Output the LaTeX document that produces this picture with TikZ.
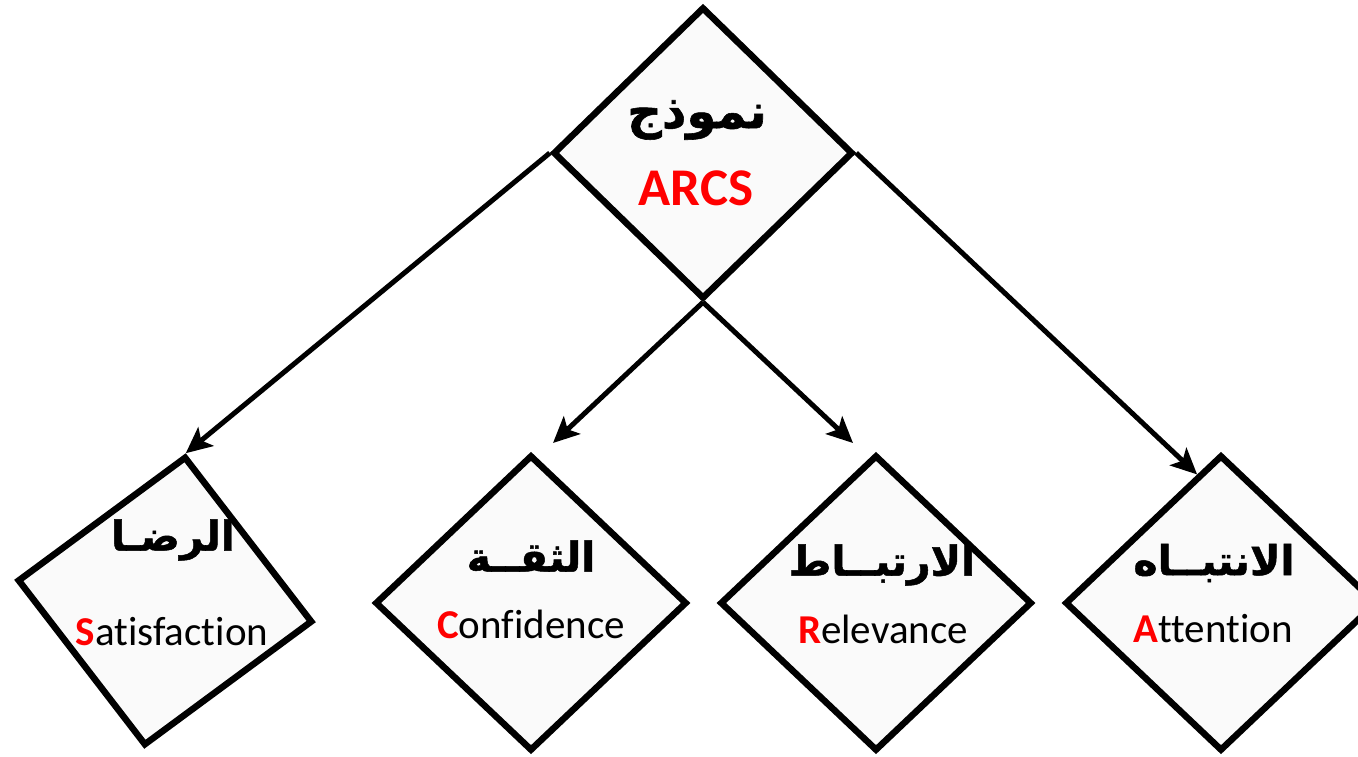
\documentclass[tikz,border=0pt]{standalone}
\usepackage{fontspec}
\setmainfont[Ligatures=NoCommon]{Carlito}
\newfontfamily\arabicfont[Script=Arabic,BoldFeatures={FakeBold=1.2}]{DejaVu Sans}
\TeXXeTstate=1
\usetikzlibrary{shapes.geometric,arrows.meta,calc}
\definecolor{boxfill}{RGB}{250,250,250}
\definecolor{arcsred}{RGB}{255,0,0}
\begin{document}
\begin{tikzpicture}[x=1pt,y=-1pt,
  dbox/.style={diamond, draw=black, line width=6.5pt, fill=boxfill, inner sep=0pt, minimum width=312pt, minimum height=296pt},
  conn/.style={line width=5pt, -{Stealth[length=26pt,width=24pt,inset=6pt]}},
  artext/.style={font=\arabicfont\bfseries\fontsize{41}{49}\selectfont, anchor=center},
  entext/.style={font=\fontsize{41}{49}\selectfont, anchor=base}]
\useasboundingbox (0,0) rectangle (1358,756);
% diamonds
\node[dbox, minimum width=300pt, minimum height=292pt] (top) at (703,153) {};
\node[dbox, minimum width=298pt, minimum height=292pt, rotate=-8] (sat) at (165,601) {};
\node[dbox] (conf) at (531,603) {};
\node[dbox] (rel) at (876,603) {};
\node[dbox] (att) at (1221,603) {};
% texts
\node[artext, font=\arabicfont\bfseries\fontsize{48}{56}\selectfont] (t0) at (697,120) {\beginR نموذج\endR};
\node[anchor=base, font=\bfseries\fontsize{53}{61}\selectfont, text=arcsred] (t0e) at (696,205) {ARCS};
\node[artext] (t1) at (173,540) {\beginR الرضـا\endR};
\node[entext] (t1e) at (172,645) {\textcolor{arcsred}{\textbf{S}}atisfaction};
\node[artext] (t2) at (531,556) {\beginR الثقــة\endR};
\node[entext] (t2e) at (531,638) {\textcolor{arcsred}{\textbf{C}}onfidence};
\node[artext] (t3) at (882,565) {\beginR الارتبــاط\endR};
\node[entext] (t3e) at (883,643) {\textcolor{arcsred}{\textbf{R}}elevance};
\node[artext] (t4) at (1214,563) {\beginR الانتبــاه\endR};
\node[entext] (t4e) at (1213,642) {\textcolor{arcsred}{\textbf{A}}ttention};
% connector ends
\coordinate (cC) at (553,443);
\coordinate (cR) at (853,443);
\coordinate (cA) at ($(att.north)!0.15!(att.west)$);
% connectors
\draw[conn] (top.west) -- (sat.north);
\draw[conn] (top.east) -- (cA);
\draw[conn] (top.south) -- (cC);
\draw[conn] (top.south) -- (cR);
\end{tikzpicture}
\end{document}
